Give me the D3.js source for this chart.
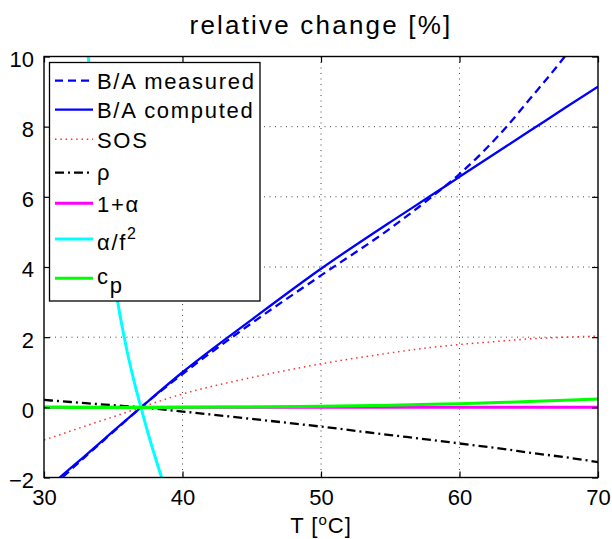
<!DOCTYPE html>
<html>
<head>
<meta charset="utf-8">
<script src="https://cdn.jsdelivr.net/npm/d3@7"></script>
<style>
  body { margin: 0; background: #fff; }
  text { font-family: "Liberation Sans", Arial, Helvetica, sans-serif; fill: #000; }
</style>
</head>
<body>
<div class="board"></div>
<script>
// values
var temps = [30, 31, 33, 35, 37, 40, 45, 50, 55, 58, 60, 63.4, 65, 67.6, 70];
var baMeasured = [-2.5, -2.12, -1.4, -0.7, 0, 0.95, 2.4, 3.76, 5.1, 6.0, 6.65, 8.0, 8.75, 10.0, 11.3];
var baComputed = [-2.4, -2.05, -1.37, -0.68, 0, 1.0, 2.5, 3.95, 5.28, 6.05, 6.57, 7.45, 7.86, 8.53, 9.14];
var sos = [-0.93, -0.8, -0.53, -0.27, 0, 0.38, 0.85, 1.24, 1.55, 1.71, 1.79, 1.9, 1.95, 2.0, 2.03];
var rho = [0.21, 0.18, 0.12, 0.06, 0, -0.12, -0.33, -0.55, -0.79, -0.93, -1.03, -1.2, -1.29, -1.42, -1.56];
var onePlusAlpha = [0, 0, 0, 0, 0, 0, 0, 0, 0, 0, 0, 0, 0, 0, 0];
var cp = [0, 0, -0.003, -0.005, -0.003, 0, 0.012, 0.03, 0.06, 0.09, 0.105, 0.145, 0.165, 0.2, 0.24];

var cyanT = [33, 33.5, 34, 34.5, 35, 35.5, 36, 36.5, 37, 37.5, 38, 38.5, 39];
var alphaF2 = [10.9, 8.6, 6.7, 5.1, 3.8, 2.6, 1.6, 0.75, 0, -0.72, -1.38, -2.0, -2.5];

var xTicks = [30, 40, 50, 60, 70];
var yTicks = [-2, 0, 2, 4, 6, 8, 10];
var gridX = [40, 50, 60];
var gridY = [0, 2, 4, 6, 8];

var W = 612, H = 539;
var pL = 44, pR = 598, pT = 56.5, pB = 477.5;

var svg = d3.select('.board')
  .append('svg')
  .attr('width', W)
  .attr('height', H);

var x = d3.scaleLinear().domain([30, 70]).range([pL, pR]);
var y = d3.scaleLinear().domain([-2, 10]).range([pB, pT]);

svg.append('defs').append('clipPath').attr('id', 'plot')
  .append('rect')
  .attr('x', pL).attr('y', pT)
  .attr('width', pR - pL).attr('height', pB - pT);

// grid
var grid = svg.append('g')
  .attr('stroke', '#444')
  .attr('stroke-width', 1)
  .attr('stroke-dasharray', '1,4.5');
grid.selectAll('.gx').data(gridX).enter().append('line')
  .attr('x1', function(d) { return x(d); })
  .attr('x2', function(d) { return x(d); })
  .attr('y1', pT).attr('y2', pB);
grid.selectAll('.gy').data(gridY).enter().append('line')
  .attr('y1', function(d) { return y(d); })
  .attr('y2', function(d) { return y(d); })
  .attr('x1', pL).attr('x2', pR);

var series = [
  { t: temps, v: baMeasured, color: '#0000ff', w: 2.3, dash: '8,5' },
  { t: temps, v: baComputed, color: '#0000ff', w: 2.3, dash: null },
  { t: temps, v: sos, color: '#ff3030', w: 1.5, dash: '1.5,3.8' },
  { t: temps, v: rho, color: '#000000', w: 2.3, dash: '9,4,2,4' },
  { t: temps, v: onePlusAlpha, color: '#ff00ff', w: 3, dash: null },
  { t: cyanT, v: alphaF2, color: '#00ffff', w: 3, dash: null },
  { t: temps, v: cp, color: '#00ff00', w: 3, dash: null }
];

var line = d3.line()
  .x(function(d) { return x(d[0]); })
  .y(function(d) { return y(d[1]); })
  .curve(d3.curveMonotoneX);

var lines = svg.append('g').attr('clip-path', 'url(#plot)');
series.forEach(function(s) {
  lines.append('path')
    .attr('d', line(d3.zip(s.t, s.v)))
    .attr('fill', 'none')
    .attr('stroke', s.color)
    .attr('stroke-width', s.w)
    .attr('stroke-dasharray', s.dash);
});

// axes, ticks inward on all four sides
var tk = 6;
svg.append('g').attr('transform', 'translate(0,' + pB + ')')
  .call(d3.axisBottom(x).tickValues(xTicks).tickSizeInner(-tk).tickSizeOuter(0).tickPadding(tk + 4))
  .call(function(g) {
    g.selectAll('text').attr('font-size', 22).attr('dy', '0.78em');
  });
svg.append('g').attr('transform', 'translate(0,' + pT + ')')
  .call(d3.axisTop(x).tickValues(xTicks).tickSizeInner(-tk).tickSizeOuter(0).tickFormat(''));
svg.append('g').attr('transform', 'translate(' + pL + ',0)')
  .call(d3.axisLeft(y).tickValues(yTicks).tickSizeInner(-tk).tickSizeOuter(0).tickPadding(tk + 4)
    .tickFormat(function(d) { return d < 0 ? '\u2212' + Math.abs(d) : d; }))
  .call(function(g) {
    g.selectAll('text').attr('font-size', 22).attr('dy', '0.45em');
  });
svg.append('g').attr('transform', 'translate(' + pR + ',0)')
  .call(d3.axisRight(y).tickValues(yTicks).tickSizeInner(-tk).tickSizeOuter(0).tickFormat(''));
svg.selectAll('.domain').remove();
svg.selectAll('.tick line').attr('stroke', '#000').attr('stroke-width', 1.2);
svg.selectAll('.tick text').attr('fill', '#000')
  .style('font-family', '"Liberation Sans", Arial, Helvetica, sans-serif');

svg.append('rect')
  .attr('x', pL).attr('y', pT)
  .attr('width', pR - pL).attr('height', pB - pT)
  .attr('fill', 'none').attr('stroke', '#000').attr('stroke-width', 1.4);

// title and label
svg.append('text')
  .attr('x', (pL + pR) / 2).attr('y', 34)
  .attr('text-anchor', 'middle')
  .attr('font-size', 26)
  .style('letter-spacing', '2.2px')
  .text('relative change [%]');

var xl = svg.append('text')
  .attr('x', (pL + pR) / 2).attr('y', 533)
  .attr('text-anchor', 'middle')
  .attr('font-size', 22)
  .style('letter-spacing', '1px');
xl.append('tspan').text('T [');
xl.append('tspan').attr('font-size', 15).attr('dy', -8).text('o');
xl.append('tspan').attr('dy', 8).text('C]');

// legend
var legendY = [80.7, 109.7, 139.3, 172.7, 203.3, 239, 278.3];
var legendBase = [89, 118, 148, 180, 212, 250, 284];
var lg = svg.append('g');
lg.append('rect')
  .attr('x', 49.5).attr('y', 62.5).attr('width', 210.5).attr('height', 238.5)
  .attr('fill', '#fff').attr('stroke', '#000').attr('stroke-width', 1.3);

series.forEach(function(s, i) {
  lg.append('line')
    .attr('x1', 55).attr('x2', 93)
    .attr('y1', legendY[i]).attr('y2', legendY[i])
    .attr('stroke', s.color)
    .attr('stroke-width', s.w)
    .attr('stroke-dasharray', s.dash);
});

function legendText(i) {
  return lg.append('text')
    .attr('x', 97).attr('y', legendBase[i])
    .attr('font-size', 22)
    .style('letter-spacing', '1.7px');
}
legendText(0).text('B/A measured');
legendText(1).text('B/A computed');
legendText(2).text('SOS');
legendText(3).text('\u03c1');
legendText(4).text('1+\u03b1');
var t5 = legendText(5);
t5.append('tspan').text('\u03b1/f');
t5.append('tspan').attr('font-size', 16).attr('dy', -11).text('2');
var t6 = legendText(6);
t6.append('tspan').text('c');
t6.append('tspan').attr('font-size', 22).attr('dy', 9).text('p');
</script>
</body>
</html>
